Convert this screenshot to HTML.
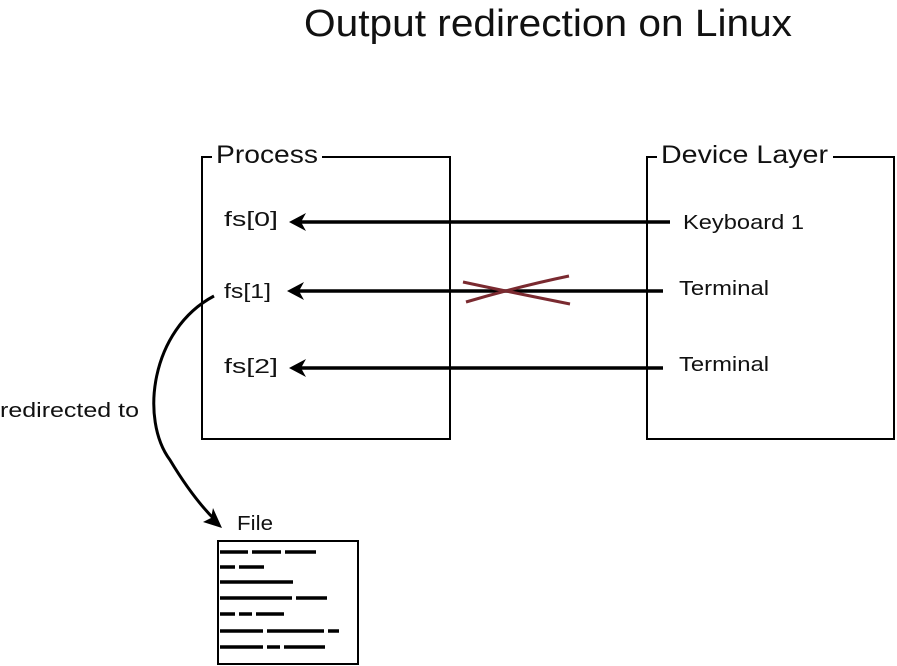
<!DOCTYPE html>
<html><head><style>
html,body{margin:0;padding:0;background:#fff;width:897px;height:666px;overflow:hidden}
svg{display:block}
text{font-family:"Liberation Sans",sans-serif;fill:#111}
</style></head><body>
<svg width="897" height="666" viewBox="0 0 897 666">
<text x="304" y="36" font-size="38" textLength="488" lengthAdjust="spacingAndGlyphs">Output redirection on Linux</text>
<path d="M212,157 H202 V439 H450 V157 H322" fill="none" stroke="#000" stroke-width="2"/>
<text x="216" y="163" font-size="25" textLength="102" lengthAdjust="spacingAndGlyphs">Process</text>
<path d="M657,157 H647 V439 H894 V157 H833" fill="none" stroke="#000" stroke-width="2"/>
<text x="661" y="163" font-size="25" textLength="167" lengthAdjust="spacingAndGlyphs">Device Layer</text>
<text x="224" y="226" font-size="20" textLength="54" lengthAdjust="spacingAndGlyphs">fs[0]</text>
<text x="224" y="298" font-size="20" textLength="47" lengthAdjust="spacingAndGlyphs">fs[1]</text>
<text x="224" y="373" font-size="20" textLength="54" lengthAdjust="spacingAndGlyphs">fs[2]</text>
<text x="683" y="229" font-size="20" textLength="121" lengthAdjust="spacingAndGlyphs">Keyboard 1</text>
<text x="679" y="295" font-size="20" textLength="90" lengthAdjust="spacingAndGlyphs">Terminal</text>
<text x="679" y="371" font-size="20" textLength="90" lengthAdjust="spacingAndGlyphs">Terminal</text>
<line x1="670" y1="222" x2="300" y2="222" stroke="#000" stroke-width="3.5"/>
<path d="M289,222 L306,213 L301,222 L306,231 Z" fill="#000"/>
<line x1="663" y1="291" x2="298" y2="291" stroke="#000" stroke-width="3.5"/>
<path d="M287,291 L304,282 L299,291 L304,300 Z" fill="#000"/>
<line x1="663" y1="368" x2="300" y2="368" stroke="#000" stroke-width="3.5"/>
<path d="M289,368 L306,359 L301,368 L306,377 Z" fill="#000"/>
<path d="M463,282 C500,290 540,298 570,304 M466,302 C500,292 540,282 569,276" stroke="#7a2a30" stroke-width="3" fill="none"/>
<path d="M214,296 C150,330 140,420 170,460 C185,485 200,505 215,520" fill="none" stroke="#000" stroke-width="3"/>
<path d="M222,528 L203,522 L211,518 L213,508 Z" fill="#000"/>
<text x="0" y="417" font-size="20" textLength="139" lengthAdjust="spacingAndGlyphs">redirected to</text>
<text x="237" y="530" font-size="20" textLength="36" lengthAdjust="spacingAndGlyphs">File</text>
<rect x="218" y="541" width="140" height="123" fill="#fff" stroke="#000" stroke-width="2"/>
<g stroke="#000" stroke-width="3.5" fill="none">
<path d="M220,552 H248 M252,552 H281 M285,552 H316"/>
<path d="M220,567 H235 M239,567 H264"/>
<path d="M220,582 H293"/>
<path d="M220,598 H292 M296,598 H327"/>
<path d="M220,614 H235 M239,614 H252 M256,614 H284"/>
<path d="M220,631 H263 M267,631 H324 M328,631 H339"/>
<path d="M220,647 H263 M267,647 H280 M284,647 H325"/>
</g>
</svg>
</body></html>
